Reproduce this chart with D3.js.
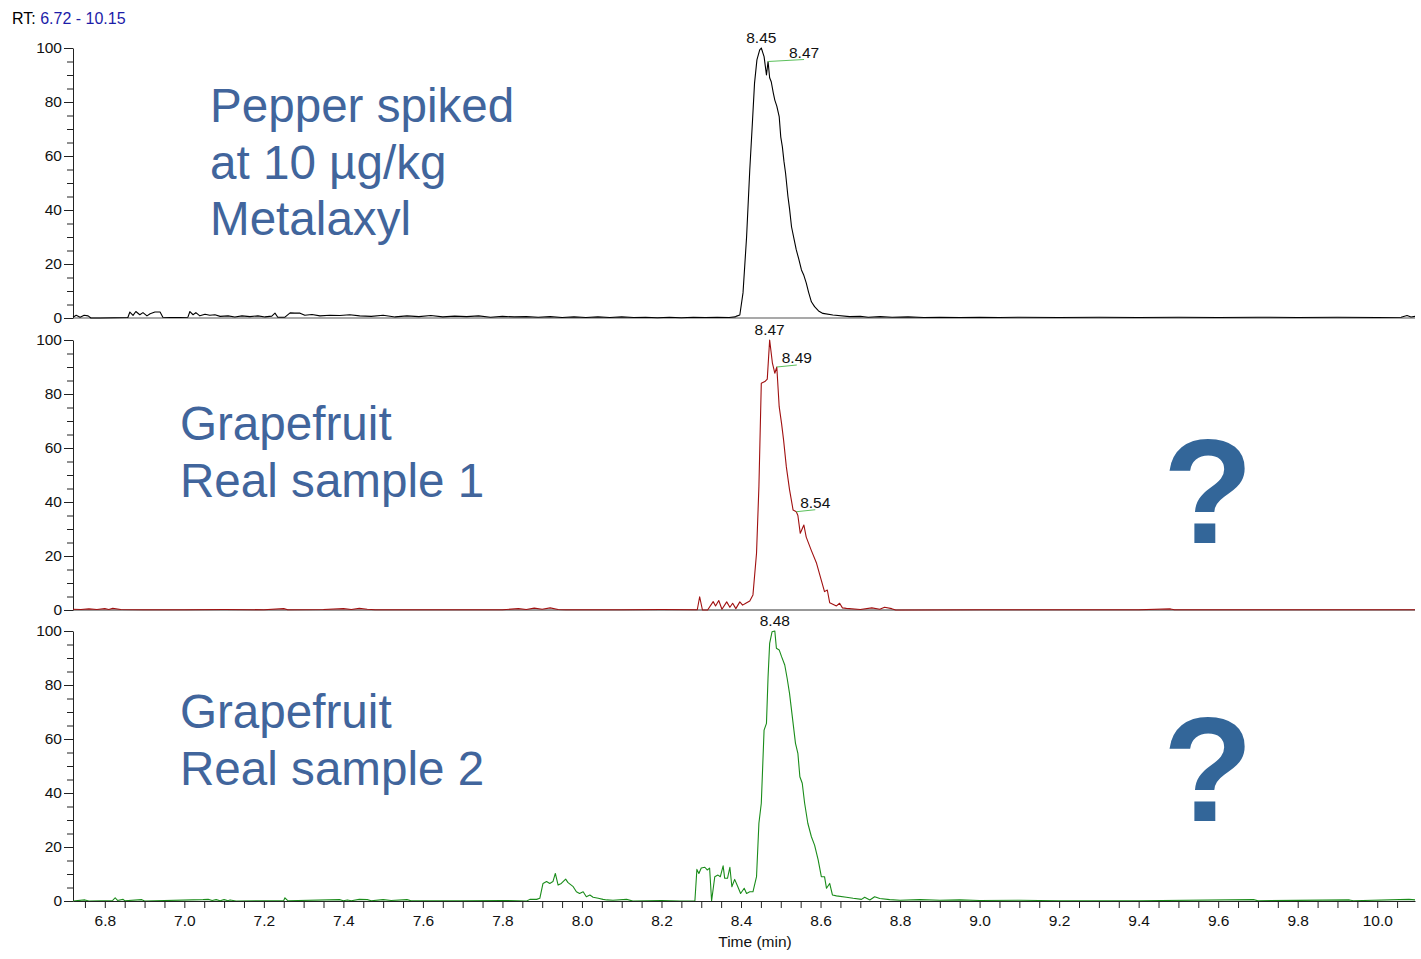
<!DOCTYPE html>
<html><head><meta charset="utf-8">
<script src="https://cdn.jsdelivr.net/npm/d3@7/dist/d3.min.js"></script>
<style>
body{margin:0;background:#fff;}
svg{display:block;font-family:"Liberation Sans",Arial,sans-serif;}
</style></head><body>
<svg id="c" width="1421" height="959"></svg>
<script>
// ---------- DATA ----------
const rtRange = "6.72 - 10.15";
const yTicks = [0, 20, 40, 60, 80, 100];
const xTickLabels = [6.8, 7.0, 7.2, 7.4, 7.6, 7.8, 8.0, 8.2, 8.4, 8.6, 8.8, 9.0, 9.2, 9.4, 9.6, 9.8, 10.0];
const xAxisTitle = "Time (min)";

// Panel 1: Pepper spiked (black) [time, relative abundance]
const pepperTrace = [
 [6.720,0.3],[6.728,1.0],[6.738,0.3],[6.748,1.0],[6.758,0.8],[6.765,0],[6.788,0],[6.858,0.2],
 [6.863,2.2],[6.871,1.0],[6.878,2.4],[6.888,1.2],[6.896,2.0],[6.906,0.8],[6.914,1.6],[6.926,2.2],
 [6.939,2.2],[6.946,0.3],[6.964,0.2],[6.989,0.2],[7.009,0.3],[7.014,2.4],[7.022,1.2],[7.029,2.0],
 [7.039,0.8],[7.052,1.4],[7.064,1.0],[7.077,1.2],[7.090,0.6],[7.110,0.8],[7.127,0.4],[7.145,0.8],
 [7.165,0.5],[7.185,0.8],[7.203,0.4],[7.220,0.7],[7.228,1.8],[7.235,0.3],[7.253,0.3],[7.266,1.9],
 [7.278,1.8],[7.291,1.8],[7.303,1.0],[7.321,1.3],[7.341,0.8],[7.366,1.0],[7.391,0.9],[7.416,1.2],
 [7.441,0.8],[7.470,0.6],[7.500,1.0],[7.530,0.4],[7.560,0.8],[7.590,0.5],[7.620,0.9],[7.650,0.4],
 [7.680,0.7],[7.710,0.5],[7.740,0.8],[7.770,0.3],[7.800,0.6],[7.830,0.4],[7.860,0.5],[7.890,0.3],
 [7.920,0.5],[7.950,0.2],[7.980,0.4],[8.010,0.2],[8.040,0.4],[8.070,0.2],[8.100,0.4],[8.130,0.2],
 [8.160,0.3],[8.190,0.1],[8.220,0.3],[8.250,0.1],[8.280,0.3],[8.310,0.2],[8.340,0.3],[8.370,0.2],
 [8.385,0.4],[8.389,0.7],[8.397,1.1],[8.405,9.3],[8.414,30.0],[8.422,54.8],[8.429,73.3],[8.434,87.0],
 [8.440,95.6],[8.447,99.3],[8.451,100],[8.458,96.8],[8.464,90.0],[8.468,95.0],[8.472,89.0],[8.476,87.5],
 [8.481,83.5],[8.485,80.7],[8.490,78.5],[8.496,74.6],[8.500,67.0],[8.504,63.4],[8.508,58.0],[8.512,53.7],
 [8.518,45.0],[8.522,40.5],[8.527,33.8],[8.533,29.5],[8.539,25.2],[8.545,22.0],[8.552,17.8],[8.558,15.8],
 [8.564,13.0],[8.570,9.5],[8.577,6.0],[8.585,4.2],[8.595,2.6],[8.606,1.7],[8.631,1.1],[8.673,0.5],[8.700,0.6],[8.720,0.3],[8.750,0.5],
 [8.780,0.3],[8.820,0.4],[8.860,0.2],[8.900,0.3],[8.950,0.2],[9.000,0.3],[9.050,0.2],[9.100,0.3],
 [9.200,0.2],[9.300,0.3],[9.400,0.2],[9.500,0.3],[9.600,0.2],[9.700,0.3],[9.800,0.2],[9.900,0.3],
 [10.000,0.2],[10.060,0.3],[10.075,0.9],[10.085,0.4],[10.095,0.6]
];

// Panel 2: Grapefruit real sample 1 (dark red)
const sample1Trace = [
 [6.720,0.3],[6.740,0.2],[6.760,0.4],[6.780,0.2],[6.800,0.5],[6.810,0.2],[6.820,0.6],[6.840,0.2],
 [6.900,0.1],[7.000,0.1],[7.100,0.2],[7.200,0.1],[7.250,0.5],[7.260,0.1],[7.350,0.2],[7.400,0.5],
 [7.420,0.2],[7.440,0.6],[7.460,0.3],[7.480,0.1],[7.600,0.1],[7.800,0.1],[7.840,0.5],[7.860,0.2],
 [7.880,0.7],[7.900,0.3],[7.920,0.8],[7.940,0.2],[7.960,0.1],[8.100,0.1],[8.200,0.2],[8.290,0.1],
 [8.296,4.9],[8.303,0],[8.316,0],[8.330,3.1],[8.336,1.5],[8.344,3.5],[8.352,0.3],[8.364,3.0],
 [8.372,1.0],[8.379,2.5],[8.387,0.5],[8.397,3.0],[8.404,1.8],[8.412,2.5],[8.422,3.3],[8.430,5.6],
 [8.439,21.0],[8.445,45.7],[8.451,84.0],[8.460,84.6],[8.466,85.5],[8.472,100],[8.479,91.4],[8.485,87.7],
 [8.490,90.0],[8.496,75.3],[8.502,69.0],[8.507,63.0],[8.514,53.0],[8.522,44.6],[8.531,37.0],[8.539,36.4],
 [8.543,35.0],[8.549,28.4],[8.558,31.5],[8.564,27.0],[8.577,22.0],[8.590,17.3],[8.602,11.0],[8.610,6.8],
 [8.617,7.4],[8.623,2.7],[8.640,1.5],[8.648,2.5],[8.655,0.8],[8.665,0.6],[8.700,0.2],[8.729,0.8],
 [8.749,0.3],[8.761,1.0],[8.779,0.5],[8.789,0],[9.000,0.1],[9.200,0.1],[9.400,0.1],[9.480,0.4],
 [9.490,0.1],[9.600,0.1],[9.800,0.1],[10.000,0.1],[10.095,0.1]
];

// Panel 3: Grapefruit real sample 2 (green)
const sample2Trace = [
 [6.720,0],[6.750,0.4],[6.760,0],[6.820,0.2],[6.826,1.2],[6.832,0.2],[6.846,0.6],[6.850,0.1],
 [6.893,0.5],[6.900,0],[7.047,0.5],[7.060,0.6],[7.070,0.2],[7.080,0.5],[7.090,0.1],[7.100,0.5],
 [7.110,0.1],[7.115,0.4],[7.130,0],[7.250,0.2],[7.253,1.2],[7.260,0.1],[7.390,0.5],[7.400,0.1],
 [7.410,0.4],[7.420,0.1],[7.440,0.6],[7.460,0.5],[7.470,0.1],[7.500,0.5],[7.520,0.2],[7.560,0.5],
 [7.570,0.1],[7.700,0.1],[7.800,0.2],[7.861,0],[7.869,0.6],[7.886,0.6],[7.894,1.0],[7.902,6.5],
 [7.911,7.2],[7.919,6.5],[7.927,7.2],[7.933,10.2],[7.940,5.9],[7.948,6.5],[7.959,8.1],[7.965,6.8],
 [7.978,5.3],[7.986,3.4],[7.994,2.8],[8.003,3.4],[8.011,1.6],[8.020,2.2],[8.028,1.4],[8.041,1.0],
 [8.053,0.6],[8.062,0.4],[8.078,0.3],[8.112,0.6],[8.128,0],[8.200,0.2],[8.246,0],[8.284,0],
 [8.289,11.7],[8.294,10.2],[8.300,12.2],[8.309,12.5],[8.315,11.5],[8.321,12.2],[8.326,0],[8.334,9.0],
 [8.342,9.6],[8.348,9.0],[8.355,13.0],[8.359,8.4],[8.366,8.4],[8.372,12.5],[8.377,5.3],[8.384,8.0],
 [8.392,5.3],[8.399,2.8],[8.408,4.7],[8.414,2.8],[8.422,3.4],[8.430,3.4],[8.439,9.0],[8.445,28.8],
 [8.451,36.2],[8.458,63.3],[8.464,65.8],[8.468,83.0],[8.472,95.4],[8.478,99.7],[8.485,100],[8.489,93.6],
 [8.496,93.0],[8.502,90.5],[8.510,87.4],[8.516,82.5],[8.522,76.9],[8.531,65.8],[8.537,58.4],[8.543,54.7],
 [8.548,46.0],[8.554,43.6],[8.560,36.2],[8.568,28.8],[8.577,23.8],[8.585,20.7],[8.594,15.2],[8.602,9.0],
 [8.610,9.0],[8.615,4.7],[8.623,6.5],[8.630,2.2],[8.640,1.9],[8.665,1.4],[8.682,1.0],[8.703,0.6],
 [8.711,1.4],[8.724,0.4],[8.736,1.6],[8.749,0.9],[8.774,0.5],[8.800,0.3],[8.850,0.5],[8.900,0.3],
 [8.950,0.4],[9.000,0.2],[9.100,0.3],[9.200,0.1],[9.400,0.1],[9.689,0.5],[9.700,0.1],[9.930,0.4],
 [9.940,0.1],[10.080,0.6],[10.095,0.4]
];

const panelLabels = [
  ["Pepper spiked", "at 10 µg/kg", "Metalaxyl"],
  ["Grapefruit", "Real sample 1"],
  ["Grapefruit", "Real sample 2"]
];
const questionPanels = [1, 2];

// peak annotations: panel index, time, abundance, label, has leader line
const peakPanels = [0, 0, 1, 1, 1, 2];
const peakTimes  = [8.451, 8.468, 8.472, 8.490, 8.539, 8.485];
const peakValues = [100, 95.0, 100, 90.0, 36.4, 100];
const peakLabels = ["8.45", "8.47", "8.47", "8.49", "8.54", "8.48"];
const peakLeader = [false, true, false, true, true, false];

// ---------- STYLE / LAYOUT ----------
const traces = [pepperTrace, sample1Trace, sample2Trace];
const traceColors = ["#000000", "#a01010", "#1a8c1a"];
const panelTops = [48, 340, 631];
const panelH = 270;
const xLeft = 73, xRight = 1415;
const labelStyle = [
  {x: 210, baselines: [122, 179, 235]},
  {x: 180, baselines: [440, 497]},
  {x: 180, baselines: [728, 785]}
];
const qBaseline = {1: 543, 2: 821};
const leaderDx = [0, 36, 0, 20, 19, 0];
const smallFont = 15.5;

const svg = d3.select("#c");
const x = d3.scaleLinear().domain([6.72, 10.095]).range([xLeft, xRight]);

// Header
const hdr = svg.append("text").attr("x", 12).attr("y", 24).attr("font-size", 16).attr("fill", "#000");
hdr.append("tspan").text("RT: ");
hdr.append("tspan").attr("fill", "#1c1ca8").text(rtRange);

traces.forEach((data, i) => {
  const top = panelTops[i];
  const y = d3.scaleLinear().domain([0, 100]).range([top + panelH, top]);
  const g = svg.append("g");

  // y axis with minor ticks
  const minor = d3.range(0, 101, 5).filter(v => v % 20 !== 0);
  g.append("g").attr("transform", `translate(${xLeft},0)`)
    .call(d3.axisLeft(y).tickValues(minor).tickSize(6).tickFormat(""))
    .call(s => s.select(".domain").remove())
    .call(s => s.selectAll("line").attr("stroke", "#222"));
  g.append("g").attr("transform", `translate(${xLeft},0)`)
    .call(d3.axisLeft(y).tickValues(yTicks).tickSize(9).tickSizeOuter(0).tickPadding(2))
    .call(s => s.select(".domain").attr("stroke", "#222"))
    .call(s => s.selectAll("line").attr("stroke", "#222"))
    .call(s => s.selectAll("text").attr("font-size", smallFont).attr("fill", "#111")
        .attr("font-family", '"Liberation Sans",Arial,sans-serif'));

  // baseline
  if (i < 2) {
    g.append("line").attr("x1", xLeft).attr("x2", xRight).attr("y1", y(0)).attr("y2", y(0))
      .attr("stroke", i === 0 ? "#555" : "#333").attr("stroke-width", 1.2);
  }

  // trace
  g.append("path").datum(data)
    .attr("d", d3.line().x(d => x(d[0])).y(d => y(d[1])))
    .attr("fill", "none").attr("stroke", traceColors[i]).attr("stroke-width", 1.1)
    .attr("stroke-linejoin", "round");

  // labels
  const ls = labelStyle[i];
  panelLabels[i].forEach((t, k) => {
    g.append("text").attr("x", ls.x).attr("y", ls.baselines[k])
      .attr("font-size", 47.6).attr("fill", "#41659c").text(t);
  });
  if (questionPanels.includes(i)) {
    g.append("text").attr("x", 1208).attr("y", qBaseline[i]).attr("text-anchor", "middle")
      .attr("font-size", 148).attr("font-weight", "bold").attr("fill", "#336699").text("?");
  }

  // peak annotations
  peakPanels.forEach((p, k) => {
    if (p !== i) return;
    const px = x(peakTimes[k]), py = y(peakValues[k]);
    if (peakLeader[k]) {
      const lx = px + leaderDx[k];
      g.append("line").attr("x1", px).attr("y1", py).attr("x2", lx).attr("y2", py - 2)
        .attr("stroke", "#5cc05c").attr("stroke-width", 1);
      g.append("text").attr("x", lx).attr("y", py - 4).attr("text-anchor", "middle")
        .attr("font-size", smallFont).attr("fill", "#111").text(peakLabels[k]);
    } else {
      g.append("text").attr("x", px).attr("y", py - 5).attr("text-anchor", "middle")
        .attr("font-size", smallFont).attr("fill", "#111").text(peakLabels[k]);
    }
  });

  // x axis on bottom panel
  if (i === 2) {
    const allTicks = d3.range(135, 202).map(v => v / 20);
    g.append("g").attr("transform", `translate(0,${y(0)})`)
      .call(d3.axisBottom(x).tickValues(allTicks).tickSize(7).tickSizeOuter(0).tickPadding(7)
        .tickFormat(v => xTickLabels.some(l => Math.abs(l - v) < 1e-6) ? d3.format(".1f")(v) : ""))
      .call(s => s.select(".domain").attr("stroke", "#222"))
      .call(s => s.selectAll("line").attr("stroke", "#222"))
      .call(s => s.selectAll("text").attr("font-size", smallFont).attr("fill", "#111")
        .attr("font-family", '"Liberation Sans",Arial,sans-serif'));
    g.append("text").attr("x", 755).attr("y", 947).attr("text-anchor", "middle")
      .attr("font-size", smallFont).attr("fill", "#111").text(xAxisTitle);
  }
});
</script></body></html>
